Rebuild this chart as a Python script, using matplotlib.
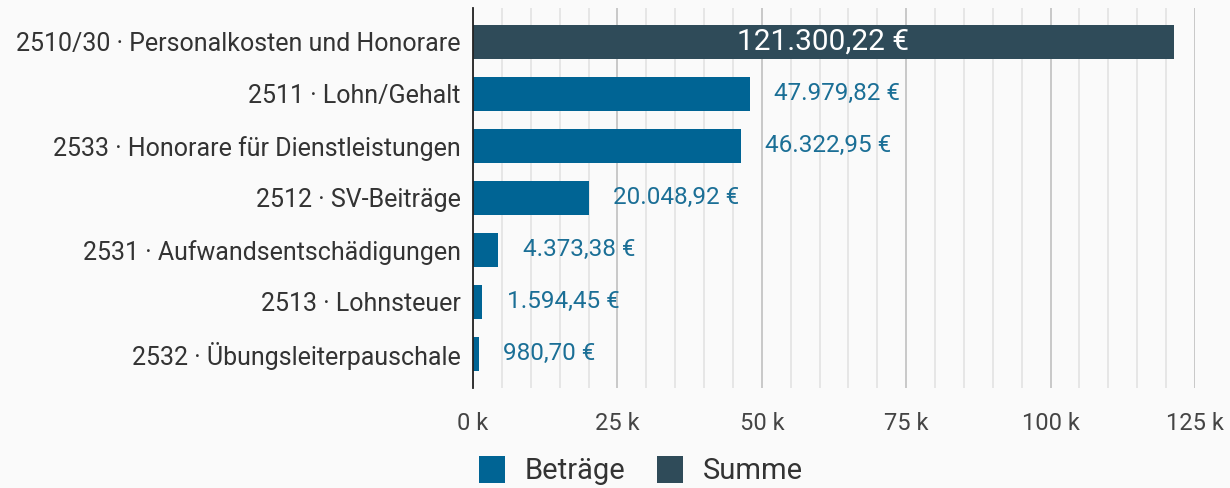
import matplotlib.pyplot as plt
from matplotlib.patches import Patch
from matplotlib.ticker import MultipleLocator, FuncFormatter

plt.rcParams['font.family'] = ['Roboto', 'DejaVu Sans']

categories = [
    '2510/30 · Personalkosten und Honorare',
    '2511 · Lohn/Gehalt',
    '2533 · Honorare für Dienstleistungen',
    '2512 · SV-Beiträge',
    '2531 · Aufwandsentschädigungen',
    '2513 · Lohnsteuer',
    '2532 · Übungsleiterpauschale',
]
values = [121300.22, 47979.82, 46322.95, 20048.92, 4373.38, 1594.45, 980.70]
is_sum = [True, False, False, False, False, False, False]
legend_labels = ['Beträge', 'Summe']

c_part = '#006494'
c_sum = '#2f4b59'
c_text = '#1b6f96'
bg = '#fafafa'


def euro(v):
    s = f'{v:,.2f}'.replace(',', 'X').replace('.', ',').replace('X', '.')
    return s + ' €'


fig = plt.figure(figsize=(12.3, 4.88), dpi=100, facecolor=bg)
ax = fig.add_axes([0.3846, 0.205, 0.5869, 0.779], facecolor=bg)

ys = list(range(len(categories)))
colors = [c_sum if s else c_part for s in is_sum]
ax.barh(ys, values, height=0.66, color=colors, zorder=3)

for y, v, s in zip(ys, values, is_sum):
    if s:
        ax.text(v / 2, y, euro(v), color='white', fontsize=21.5,
                ha='center', va='center', zorder=4)
    else:
        ax.text(v + 4200, y, euro(v), color=c_text, fontsize=17.5,
                ha='left', va='center', zorder=4)

ax.set_xlim(0, 125000)
ax.set_ylim(len(categories) - 1 + 0.654, -0.654)
ax.set_yticks(ys)
ax.set_yticklabels(categories, fontsize=18, color='#333333')
ax.xaxis.set_major_locator(MultipleLocator(25000))
ax.xaxis.set_minor_locator(MultipleLocator(5000))
ax.xaxis.set_major_formatter(FuncFormatter(lambda x, p: f'{int(x / 1000)} k'))
ax.tick_params(axis='x', which='both', length=0, labelsize=17,
               labelcolor='#444444', pad=17)
ax.tick_params(axis='y', length=0, pad=9)
ax.grid(axis='x', which='major', color='#c8c8c8', linewidth=1.4, zorder=0)
ax.grid(axis='x', which='minor', color='#e2e2e2', linewidth=1.2, zorder=0)

for side in ['top', 'right', 'bottom']:
    ax.spines[side].set_visible(False)
ax.spines['left'].set_color('#222222')
ax.spines['left'].set_linewidth(1.3)
ax.spines['left'].set_zorder(5)

handles = [Patch(facecolor=c_part), Patch(facecolor=c_sum)]
fig.legend(handles, legend_labels, loc='center', bbox_to_anchor=(0.521, 0.035),
           ncol=2, frameon=False, fontsize=21, handlelength=0.9,
           handleheight=1.0, columnspacing=1.1, handletextpad=0.65,
           labelcolor='#333333')

fig.savefig('out.png', dpi=100, facecolor=bg)
